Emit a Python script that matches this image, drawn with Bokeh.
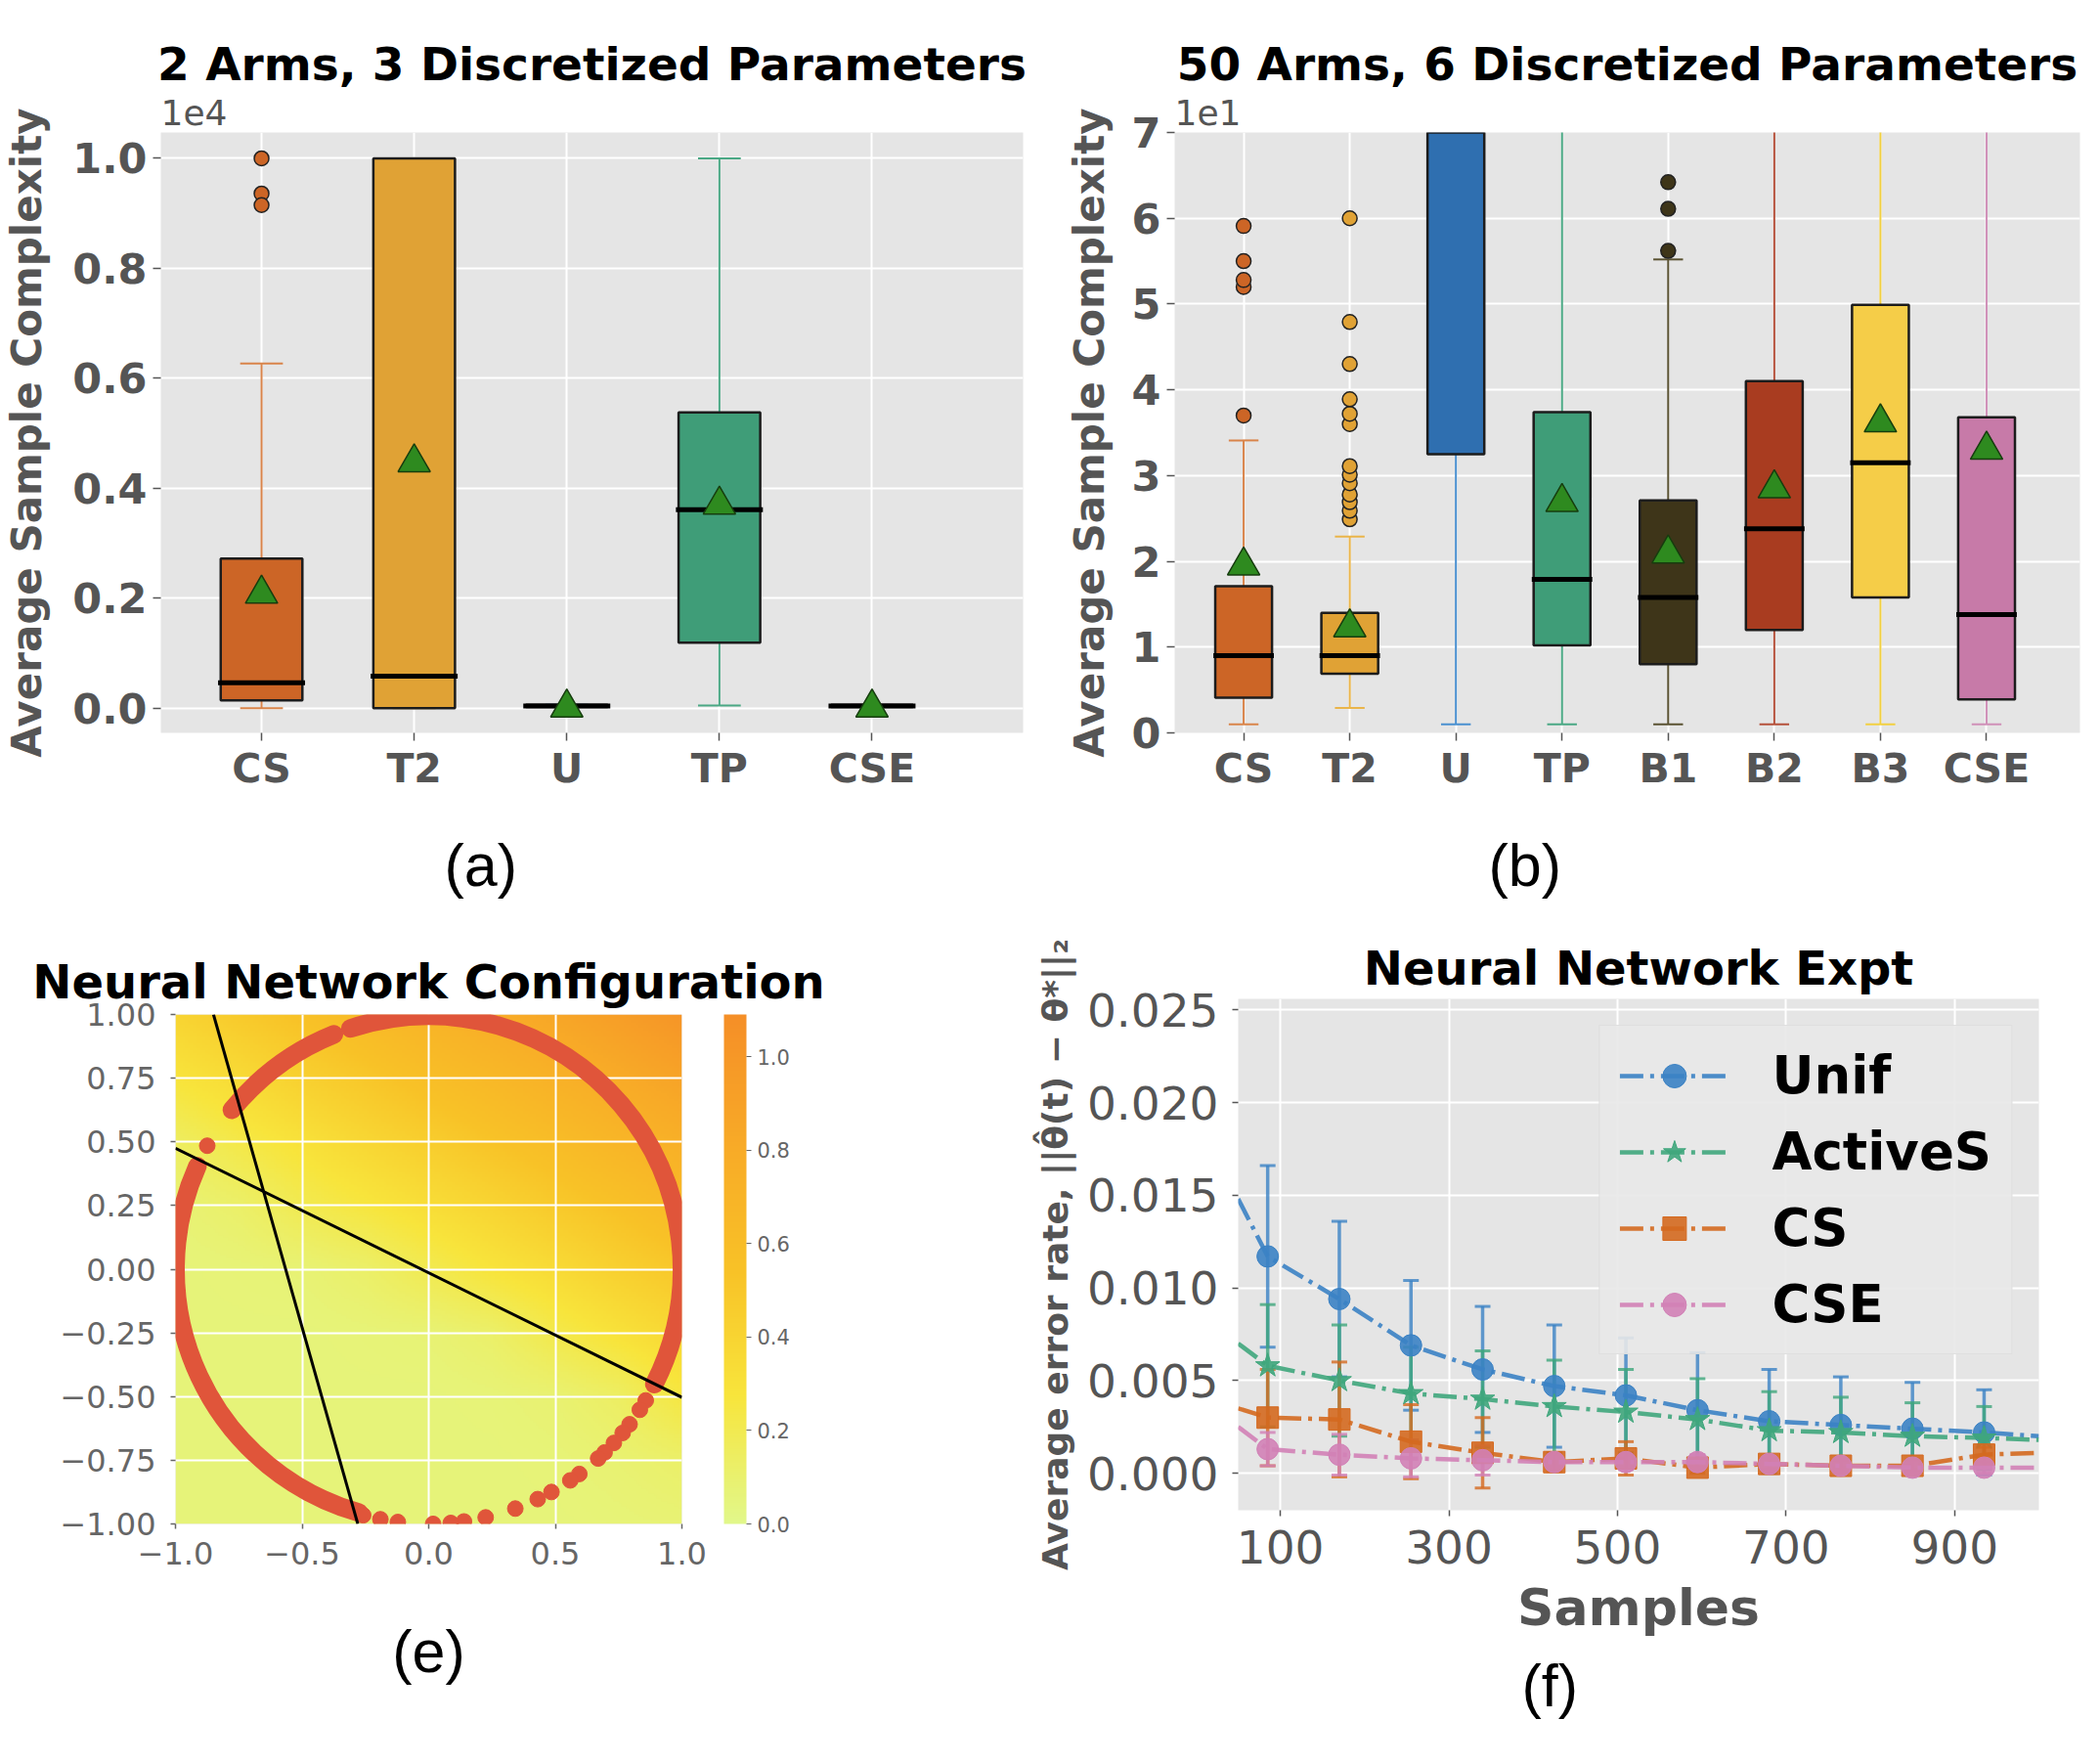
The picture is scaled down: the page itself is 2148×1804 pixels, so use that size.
import numpy as np
from bokeh.plotting import figure
from bokeh.models import (ColumnDataSource, FixedTicker, Title, Range1d, LinearColorMapper,
                          ColorBar, Whisker, TeeHead, Legend, LegendItem)
from bokeh.layouts import row, column
from bokeh.embed import file_html
from bokeh.resources import INLINE

FONT = "DejaVu Sans"
GRAY = "#555555"
BG = "#E5E5E5"

# ---------------- Panel (a): 2 arms, values in units of 1e4 ----------------
a_cats = ["CS", "T2", "U", "TP", "CSE"]
a_q1 = [0.014, 0.0, 0.002, 0.119, 0.002]
a_q3 = [0.272, 1.0, 0.006, 0.538, 0.006]
a_med = [0.046, 0.058, 0.004, 0.361, 0.004]
a_mean = [0.208, 0.447, 0.001, 0.370, 0.001]
a_wlo = [0.0, 0.0, 0.002, 0.005, 0.002]
a_whi = [0.627, 1.0, 0.006, 1.0, 0.006]
a_out_cat = ["CS", "CS", "CS"]
a_out_val = [1.0, 0.936, 0.915]
a_fill = ["#cc6526", "#e0a235", "#2f6fb0", "#3f9d78", "#c77aa8"]
a_wcol = ["#d9844a", "#eab54a", "#4a90d0", "#4aa884", "#d090b8"]
a_yticks = [0.0, 0.2, 0.4, 0.6, 0.8, 1.0]
a_ylabels = ["0.0", "0.2", "0.4", "0.6", "0.8", "1.0"]

# ---------------- Panel (b): 50 arms, values in units of 1e1 ----------------
b_cats = ["CS", "T2", "U", "TP", "B1", "B2", "B3", "CSE"]
b_q1 = [0.41, 0.69, 3.25, 1.02, 0.80, 1.20, 1.58, 0.39]
b_q3 = [1.71, 1.40, 9.0, 3.74, 2.71, 4.10, 4.99, 3.68]   # U box runs above the axis top
b_med = [0.90, 0.90, 8.0, 1.79, 1.58, 2.38, 3.15, 1.38]
b_mean = [1.95, 1.23, 8.5, 2.69, 2.09, 2.85, 3.62, 3.30]
b_wlo = [0.10, 0.29, 0.10, 0.10, 0.10, 0.10, 0.10, 0.10]
b_whi = [3.41, 2.29, 12.0, 9.0, 5.52, 9.0, 9.0, 9.0]     # >7 : clipped by the axis
b_out_cat = ["CS"] * 5 + ["T2"] * 13 + ["B1"] * 3
b_out_val = [3.70, 5.20, 5.28, 5.50, 5.91,
             2.49, 2.59, 2.69, 2.78, 2.91, 3.01, 3.11, 3.60, 3.72, 3.89, 4.30, 4.79, 6.00,
             5.62, 6.11, 6.42]
b_fill = ["#cc6526", "#e0a235", "#2f6fb0", "#3f9d78", "#3e3519", "#a93c20", "#f5cd48", "#c77aa8"]
b_wcol = ["#d9844a", "#eab54a", "#4a90d0", "#4aa884", "#5a5232", "#b5503a", "#f2d040", "#d090b8"]
b_yticks = [0, 1, 2, 3, 4, 5, 6, 7]
b_ylabels = ["0", "1", "2", "3", "4", "5", "6", "7"]

# ---------------- Panel (e): network configuration ----------------
e_grid_x = [-1.0, -0.75, -0.5, -0.25, 0.0, 0.25, 0.5, 0.75, 1.0]
e_grid_y = [-1.0, -0.75, -0.5, -0.25, 0.0, 0.25, 0.5, 0.75, 1.0]
e_field = [  # rows: y from -1 (bottom) to 1 (top)
    [0.06, 0.06, 0.06, 0.06, 0.06, 0.06, 0.06, 0.07, 0.08],
    [0.06, 0.06, 0.06, 0.06, 0.06, 0.06, 0.07, 0.09, 0.12],
    [0.06, 0.06, 0.06, 0.06, 0.06, 0.07, 0.09, 0.14, 0.25],
    [0.06, 0.06, 0.06, 0.07, 0.08, 0.12, 0.22, 0.30, 0.38],
    [0.06, 0.07, 0.08, 0.12, 0.20, 0.28, 0.35, 0.43, 0.50],
    [0.08, 0.12, 0.20, 0.26, 0.33, 0.40, 0.48, 0.55, 0.63],
    [0.15, 0.23, 0.30, 0.38, 0.45, 0.53, 0.60, 0.68, 0.75],
    [0.28, 0.35, 0.43, 0.50, 0.58, 0.65, 0.73, 0.80, 0.88],
    [0.40, 0.48, 0.55, 0.63, 0.70, 0.78, 0.85, 0.93, 1.02],
]
e_dense_start_deg = [-27, 112, 156]   # arcs of the unit circle densely covered by samples
e_dense_end_deg = [108, 141, 254]
e_sparse_deg = [-31, -33.5, -37.5, -40, -43, -46, -48, -53.5, -56, -61, -64.5, -70,
                -77, -82, -85, -89, -97, -101, -105, 151]
e_line_x0 = [-0.85, -1.0]
e_line_y0 = [1.0, 0.475]
e_line_x1 = [-0.28, 1.0]
e_line_y1 = [-1.0, -0.503]
e_xticks = [-1.0, -0.5, 0.0, 0.5, 1.0]
e_xlabels = ["\u22121.0", "\u22120.5", "0.0", "0.5", "1.0"]
e_yticks = [-1.0, -0.75, -0.5, -0.25, 0.0, 0.25, 0.5, 0.75, 1.0]
e_ylabels = ["\u22121.00", "\u22120.75", "\u22120.50", "\u22120.25", "0.00", "0.25", "0.50", "0.75", "1.00"]
e_cticks = [0.0, 0.2, 0.4, 0.6, 0.8, 1.0]
e_clabels = ["0.0", "0.2", "0.4", "0.6", "0.8", "1.0"]

# ---------------- Panel (f): error vs samples ----------------
f_line_x = [50, 85, 170, 255, 340, 425, 510, 595, 680, 765, 850, 935, 1000]
f_names = ["Unif", "ActiveS", "CS", "CSE"]
f_unif = [0.0148, 0.0117, 0.0094, 0.0069, 0.0056, 0.0047, 0.0042, 0.0034, 0.0028, 0.0026, 0.0024, 0.0022, 0.0020]
f_actv = [0.0070, 0.0058, 0.0050, 0.0043, 0.0040, 0.0036, 0.0033, 0.0029, 0.0023, 0.0022, 0.0020, 0.0019, 0.0018]
f_cs = [0.0035, 0.0030, 0.0029, 0.0017, 0.0011, 0.0006, 0.0008, 0.0003, 0.0005, 0.0004, 0.0004, 0.0010, 0.0011]
f_cse = [0.0025, 0.0013, 0.0010, 0.0008, 0.0007, 0.0006, 0.0006, 0.0006, 0.0005, 0.0004, 0.0003, 0.0003, 0.0003]
f_unif_err = [0.0049, 0.0042, 0.0035, 0.0034, 0.0033, 0.0031, 0.0031, 0.0028, 0.0026, 0.0025, 0.0023]
f_actv_err = [0.0033, 0.0030, 0.0025, 0.0026, 0.0025, 0.0023, 0.0022, 0.0021, 0.0019, 0.0018, 0.0017]
f_cs_err = [0.0026, 0.0031, 0.0020, 0.0019, 0.0005, 0.0009, 0.0003, 0.0003, 0.0003, 0.0003, 0.0004]
f_cse_err = [0.0009, 0.0011, 0.0010, 0.0008, 0.0004, 0.0004, 0.0004, 0.0003, 0.0003, 0.0003, 0.0003]
f_colors = ["#3b82c4", "#3fa67c", "#d4691f", "#d181b6"]
f_markers = ["circle", "star", "square", "circle"]
f_xticks = [100, 300, 500, 700, 900]
f_xlabels = ["100", "300", "500", "700", "900"]
f_yticks = [0.0, 0.005, 0.010, 0.015, 0.020, 0.025]
f_ylabels = ["0.000", "0.005", "0.010", "0.015", "0.020", "0.025"]


def no_align(p):
    try:
        p.frame_align = False
    except Exception:
        pass


def style_axis(ax, size, bold, tick_out, standoff, color=GRAY):
    ax.axis_line_color = None
    ax.major_tick_line_color = color
    ax.major_tick_line_width = 1.5
    ax.major_tick_out = tick_out
    ax.major_tick_in = 0
    ax.minor_tick_line_color = None
    ax.major_label_text_font = FONT
    ax.major_label_text_font_size = size
    ax.major_label_text_color = color
    ax.major_label_text_font_style = "bold" if bold else "normal"
    ax.major_label_standoff = standoff
    ax.axis_label_text_font = FONT
    ax.axis_label_text_color = GRAY
    ax.axis_label_text_font_style = "bold"


def panel_label(p, text, align, offset, standoff):
    p.add_layout(Title(text=text, align=align, offset=offset, text_font="Liberation Sans",
                       text_font_size="61px", text_font_style="normal", text_color="black",
                       standoff=standoff), "below")


def box_panel(cats, q1, q3, med, mean, wlo, whi, out_cat, out_val, fill, wcol,
              yticks, ylabels, yr, xr, title, offset_txt, panel_lbl, lbl_offset,
              width, height, borders, ylab_standoff):
    n = len(cats)
    pos = list(range(1, n + 1))
    p = figure(width=width, height=height, x_range=Range1d(*xr), y_range=Range1d(*yr),
               output_backend="svg", toolbar_location=None, title=None,
               min_border_left=borders[0], min_border_right=borders[1],
               min_border_top=borders[2], min_border_bottom=borders[3],
               background_fill_color=BG, border_fill_color="white", outline_line_color=None)
    no_align(p)
    src = ColumnDataSource(dict(
        x=pos, q1=q1, q3=q3, med=med, mean=mean, wlo=wlo, whi=whi, fill=fill, wcol=wcol,
        cl=[v - 0.14 for v in pos], cr=[v + 0.14 for v in pos],
        ml=[v - 0.285 for v in pos], mr=[v + 0.285 for v in pos]))
    p.segment(x0="x", y0="q3", x1="x", y1="whi", line_color="wcol", line_width=2, source=src)
    p.segment(x0="x", y0="wlo", x1="x", y1="q1", line_color="wcol", line_width=2, source=src)
    p.segment(x0="cl", y0="whi", x1="cr", y1="whi", line_color="wcol", line_width=2, source=src)
    p.segment(x0="cl", y0="wlo", x1="cr", y1="wlo", line_color="wcol", line_width=2, source=src)
    p.vbar(x="x", width=0.535, bottom="q1", top="q3", fill_color="fill", line_color="#1c1c1c",
           line_width=2.5, source=src)
    p.segment(x0="ml", y0="med", x1="mr", y1="med", line_color="black", line_width=5, source=src)
    osrc = ColumnDataSource(dict(
        x=[cats.index(c) + 1 for c in out_cat], y=out_val,
        fill=[fill[cats.index(c)] for c in out_cat]))
    p.scatter(x="x", y="y", marker="circle", size=15, fill_color="fill", line_color="#222222",
              line_width=1.5, source=osrc)
    p.scatter(x="x", y="mean", marker="triangle", size=33, fill_color="#2e8a1f",
              line_color="#163d0e", line_width=1.5, source=src)

    p.xaxis.ticker = FixedTicker(ticks=pos)
    p.xgrid.ticker = FixedTicker(ticks=pos)
    p.xaxis.major_label_overrides = {i + 1: c for i, c in enumerate(cats)}
    p.yaxis.ticker = FixedTicker(ticks=yticks)
    p.ygrid.ticker = FixedTicker(ticks=yticks)
    p.yaxis.major_label_overrides = {t: l for t, l in zip(yticks, ylabels)}
    style_axis(p.xaxis[0], "41px", True, 8, 4)
    style_axis(p.yaxis[0], "43px", True, 8, 6)
    p.yaxis.axis_label = "Average Sample Complexity"
    p.yaxis.axis_label_text_font_size = "42px"
    p.yaxis.axis_label_standoff = ylab_standoff
    p.grid.grid_line_color = "white"
    p.grid.grid_line_width = 2

    p.add_layout(Title(text=offset_txt, align="left", text_font=FONT, text_font_size="36px",
                       text_font_style="normal", text_color=GRAY, standoff=15), "above")
    p.add_layout(Title(text=title, align="center", text_font=FONT, text_font_size="47px",
                       text_font_style="bold", text_color="black", standoff=0), "above")
    panel_label(p, panel_lbl, "left", lbl_offset, 72)
    return p


H1 = 955
H2 = 833
pa = box_panel(a_cats, a_q1, a_q3, a_med, a_mean, a_wlo, a_whi, a_out_cat, a_out_val,
               a_fill, a_wcol, a_yticks, a_ylabels, (-0.045, 1.047), (0.34, 5.99),
               "2 Arms, 3 Discretized Parameters", "1e4", "(a)", 290,
               1066, H1, (155, 20, 135, 206), 19)
pb = box_panel(b_cats, b_q1, b_q3, b_med, b_mean, b_wlo, b_whi, b_out_cat, b_out_val,
               b_fill, b_wcol, b_yticks, b_ylabels, (0, 7), (0.35, 8.88),
               "50 Arms, 6 Discretized Parameters", "1e1", "(b)", 321,
               1066, H1, (135, 5, 135, 206), 16)

# ---------------- build panel (e) ----------------
wistia = [(0.0, (228, 255, 122)), (0.25, (255, 232, 26)), (0.5, (255, 189, 0)),
          (0.75, (255, 160, 0)), (1.0, (252, 127, 0))]
stops = [w[0] for w in wistia]
pal = []
for t in np.linspace(0, 1, 256):
    rgb = [np.interp(t, stops, [w[1][k] for w in wistia]) * 0.82 + 0.18 * 214 for k in range(3)]
    pal.append("#%02x%02x%02x" % tuple(int(round(c)) for c in rgb))
mapper = LinearColorMapper(palette=pal, low=0.0, high=1.09)

fine = np.linspace(-1, 1, 201)
field = np.array(e_field)
tmp = np.array([np.interp(fine, e_grid_x, r) for r in field])
img = np.array([np.interp(fine, e_grid_y, tmp[:, j]) for j in range(len(fine))]).T

pe = figure(width=1032, height=H2, x_range=Range1d(-1, 1), y_range=Range1d(-1, 1),
            output_backend="svg", toolbar_location=None, title=None,
            min_border_left=179, min_border_right=335, min_border_top=82, min_border_bottom=230,
            background_fill_color=BG, border_fill_color="white", outline_line_color=None)
no_align(pe)
pe.image(image=[img], x=-1, y=-1, dw=2, dh=2, color_mapper=mapper, level="image")
pe.arc(x=[0, 0, 0], y=[0, 0, 0], radius=1.0,
       start_angle=np.radians(e_dense_start_deg), end_angle=np.radians(e_dense_end_deg),
       line_color="#e0553a", line_width=19, line_cap="round")
pe.scatter(x=np.cos(np.radians(e_sparse_deg)), y=np.sin(np.radians(e_sparse_deg)),
           marker="circle", size=16, fill_color="#e0553a", line_color="#e0553a")
pe.segment(x0=e_line_x0, y0=e_line_y0, x1=e_line_x1, y1=e_line_y1, line_color="black", line_width=3)
pe.xaxis.ticker = FixedTicker(ticks=e_xticks)
pe.xgrid.ticker = FixedTicker(ticks=e_xticks)
pe.yaxis.ticker = FixedTicker(ticks=e_yticks)
pe.ygrid.ticker = FixedTicker(ticks=e_yticks)
pe.xaxis.major_label_overrides = {t: l for t, l in zip(e_xticks, e_xlabels)}
pe.yaxis.major_label_overrides = {t: l for t, l in zip(e_yticks, e_ylabels)}
style_axis(pe.xaxis[0], "32px", False, 5, 13, "#666666")
style_axis(pe.yaxis[0], "32px", False, 5, 15, "#666666")
pe.grid.grid_line_color = "white"
pe.grid.grid_line_width = 2
# blank spacer between the frame and the colour bar
pe.add_layout(Title(text=" ", align="center", text_font_size="1px", standoff=40), "right")
cb = ColorBar(color_mapper=mapper, ticker=FixedTicker(ticks=e_cticks),
              major_label_overrides={t: l for t, l in zip(e_cticks, e_clabels)},
              width=23, height="auto", padding=0, margin=0, location="top_left",
              bar_line_color=None,
              major_label_text_font=FONT, major_label_text_font_size="21px",
              major_label_text_color="#666666", major_tick_line_color="#666666",
              major_tick_out=5, major_tick_in=0, label_standoff=6,
              background_fill_color="white")
pe.add_layout(cb, "right")
pe.add_layout(Title(text="Neural Network Configuration", align="center", text_font=FONT,
                    text_font_size="48px", text_font_style="bold", text_color="black",
                    standoff=11), "above")
panel_label(pe, "(e)", "center", 0, 101)

# ---------------- build panel (f) ----------------
pf = figure(width=1100, height=H2, x_range=Range1d(50, 1000), y_range=Range1d(-0.002, 0.0256),
            output_backend="svg", toolbar_location=None, title=None,
            min_border_left=234, min_border_right=47, min_border_top=64, min_border_bottom=244,
            background_fill_color=BG, border_fill_color="white", outline_line_color=None)
no_align(pf)
series = [f_unif, f_actv, f_cs, f_cse]
errs = [f_unif_err, f_actv_err, f_cs_err, f_cse_err]
items = []
for name, ys, er, col, mk in zip(f_names, series, errs, f_colors, f_markers):
    mx = f_line_x[1:-1]
    my = ys[1:-1]
    esrc = ColumnDataSource(dict(x=mx, upper=[a + b for a, b in zip(my, er)],
                                 lower=[a - b for a, b in zip(my, er)]))
    w = Whisker(source=esrc, base="x", upper="upper", lower="lower", dimension="height",
                line_color=col, line_width=3.5, line_alpha=0.8,
                upper_head=TeeHead(size=16, line_color=col, line_width=3, line_alpha=0.8),
                lower_head=TeeHead(size=16, line_color=col, line_width=3, line_alpha=0.8))
    pf.add_layout(w)
    lr = pf.line(f_line_x, ys, line_color=col, line_width=4.5, line_dash="24 7 4 7", line_alpha=0.9)
    sr = pf.scatter(mx, my, marker=mk, size=22 if mk != "star" else 26, fill_color=col,
                    line_color=col, fill_alpha=0.9)
    er_leg = pf.scatter(x=[], y=[], marker="dash", angle=np.pi / 2, line_color=col, line_width=3.5)
    items.append(LegendItem(label=name, renderers=[lr, er_leg, sr]))
legend = Legend(items=items, location="top_right", margin=27, padding=20, spacing=17,
                glyph_width=112, glyph_height=60, label_height=60, label_standoff=44,
                label_text_font=FONT, label_text_font_size="53px", label_text_font_style="bold",
                label_text_color="black", background_fill_color="#e8e8e8", background_fill_alpha=0.9,
                border_line_color="#d6d6d6", border_line_width=1.5)
pf.add_layout(legend)
pf.xaxis.ticker = FixedTicker(ticks=f_xticks)
pf.xgrid.ticker = FixedTicker(ticks=f_xticks)
pf.yaxis.ticker = FixedTicker(ticks=f_yticks)
pf.ygrid.ticker = FixedTicker(ticks=f_yticks)
pf.xaxis.major_label_overrides = {t: l for t, l in zip(f_xticks, f_xlabels)}
pf.yaxis.major_label_overrides = {t: l for t, l in zip(f_yticks, f_ylabels)}
style_axis(pf.xaxis[0], "47px", False, 6, 14)
style_axis(pf.yaxis[0], "47px", False, 6, 14)
pf.xaxis.axis_label = "Samples"
pf.xaxis.axis_label_text_font_size = "52px"
pf.xaxis.axis_label_standoff = 12
pf.yaxis.axis_label = "Average error rate, ||\u03b8\u0302(t) \u2212 \u03b8*||\u2082"
pf.yaxis.axis_label_text_font_size = "36px"
pf.yaxis.axis_label_standoff = 9
pf.grid.grid_line_color = "white"
pf.grid.grid_line_width = 2
pf.add_layout(Title(text="Neural Network Expt", align="center", text_font=FONT,
                    text_font_size="48px", text_font_style="bold", text_color="black",
                    standoff=8), "above")
panel_label(pf, "(f)", "left", 290, 22)

layout = column(row(pa, pb), row(pe, pf))
open("out.html", "w").write(file_html(layout, INLINE))
